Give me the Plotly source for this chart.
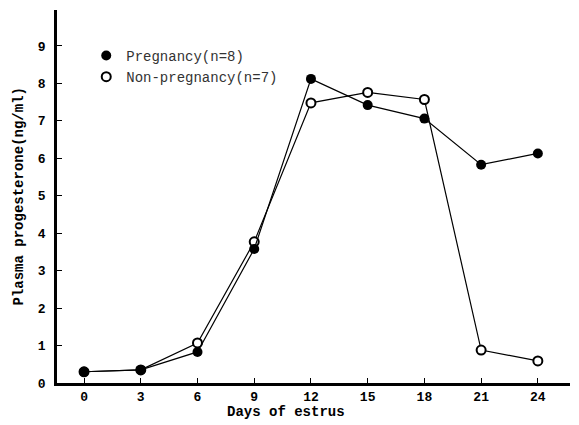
import plotly.graph_objects as go

days = [0, 3, 6, 9, 12, 15, 18, 21, 24]
pregnancy = [0.30, 0.35, 0.83, 3.58, 8.12, 7.42, 7.06, 5.83, 6.13]
non_pregnancy = [0.30, 0.35, 1.07, 3.77, 7.48, 7.76, 7.57, 0.88, 0.59]
x_ticks = [0, 3, 6, 9, 12, 15, 18, 21, 24]
y_ticks = [0, 1, 2, 3, 4, 5, 6, 7, 8, 9]

mono = "Liberation Mono"

fig = go.Figure()
fig.add_trace(go.Scatter(
    x=days, y=non_pregnancy, mode="lines+markers", showlegend=False,
    line=dict(color="black", width=1.2),
    marker=dict(symbol="circle", size=9, color="white", line=dict(color="black", width=2)),
    cliponaxis=False,
))
fig.add_trace(go.Scatter(
    x=days, y=pregnancy, mode="lines+markers", showlegend=False,
    line=dict(color="black", width=1.2),
    marker=dict(symbol="circle", size=10, color="black", line=dict(color="black", width=0)),
    cliponaxis=False,
))
# legend entries
fig.add_trace(go.Scatter(
    x=[None], y=[None], mode="markers", name="Pregnancy(n=8)",
    marker=dict(symbol="circle", size=10, color="black"),
))
fig.add_trace(go.Scatter(
    x=[None], y=[None], mode="markers", name="Non-pregnancy(n=7)",
    marker=dict(symbol="circle", size=9, color="white", line=dict(color="black", width=2)),
))

fig.update_layout(
    width=571, height=417,
    margin=dict(l=49, r=9, t=2, b=42),
    paper_bgcolor="white", plot_bgcolor="white",
    font=dict(family=mono, color="black", size=12),
    legend=dict(
        x=0.057, y=0.92, xanchor="left", yanchor="top",
        font=dict(family=mono, size=14, color="#333"),
        bgcolor="rgba(0,0,0,0)", tracegroupgap=0, itemwidth=30,
    ),
    annotations=[
        dict(text="<b>Days of estrus</b>", xref="paper", yref="paper",
             x=(286 - 57) / 513, y=0, yshift=-29, xanchor="center", yanchor="middle",
             showarrow=False, font=dict(family=mono, size=14)),
        dict(text="<b>Plasma progesterone(ng/ml)</b>", xref="paper", yref="paper",
             x=0, xshift=-39, y=0.5, xanchor="center", yanchor="middle", textangle=-90,
             showarrow=False, font=dict(family=mono, size=14)),
    ],
)
fig.update_xaxes(
    range=[-1.43, 25.7], tickvals=x_ticks, ticktext=[f"<b>{v}</b>" for v in x_ticks],
    showgrid=False, zeroline=False, showline=True, linecolor="black", linewidth=2.5,
    ticks="inside", ticklen=5, tickwidth=1, tickcolor="black",
    tickfont=dict(family=mono, size=13),
)
fig.update_yaxes(
    range=[0, 9.96], tickvals=y_ticks, ticktext=[f"<b>{v}</b>" for v in y_ticks],
    showgrid=False, zeroline=False, showline=True, linecolor="black", linewidth=2.5,
    ticks="inside", ticklen=5, tickwidth=1, tickcolor="black",
    tickfont=dict(family=mono, size=13), ticklabelstandoff=6,
)

fig.write_html("out.html")
